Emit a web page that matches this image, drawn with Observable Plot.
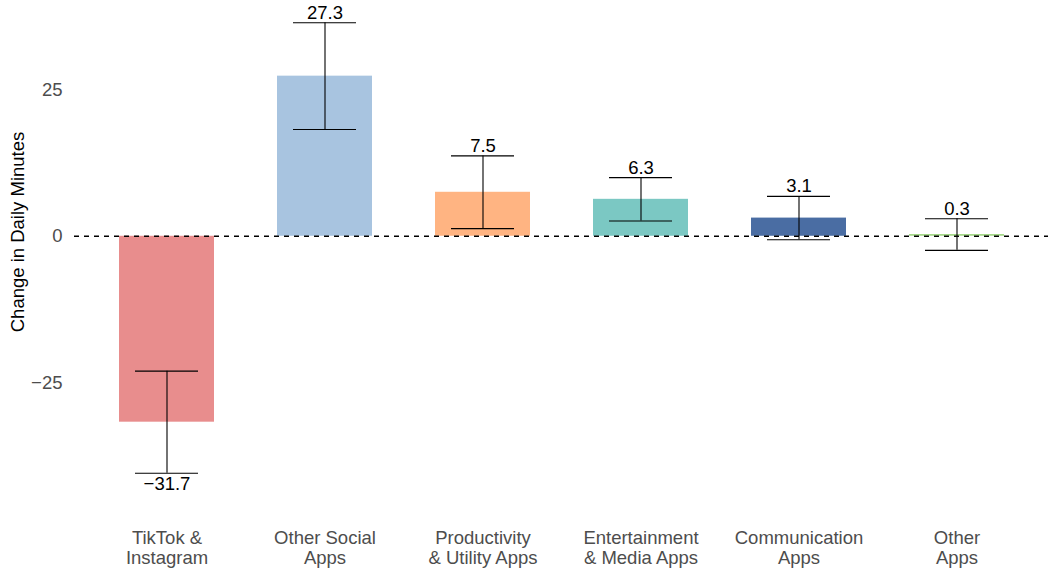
<!DOCTYPE html>
<html>
<head>
<meta charset="utf-8">
<script src="https://cdn.jsdelivr.net/npm/d3@7"></script>
<script src="https://cdn.jsdelivr.net/npm/@observablehq/plot@0.6"></script>
<style>
  html, body { margin: 0; padding: 0; background: #fff; }
  #chart { width: 1048px; height: 574px; }
</style>
</head>
<body>
<div id="chart"></div>
<script>
const categories = ["TikTok & Instagram", "Other Social Apps", "Productivity & Utility Apps", "Entertainment & Media Apps", "Communication Apps", "Other Apps"];
const tickLabels = ["TikTok &\nInstagram", "Other Social\nApps", "Productivity\n& Utility Apps", "Entertainment\n& Media Apps", "Communication\nApps", "Other\nApps"];
const values = [-31.7, 27.3, 7.5, 6.3, 3.1, 0.3];
const errLow = [-40.4, 18.2, 1.3, 2.6, -0.6, -2.4];
const errHigh = [-23.0, 36.4, 13.7, 10.0, 6.8, 3.0];
const colors = ["#E88D8D", "#A8C4E0", "#FFB482", "#7BC8C3", "#4A6DA3", "#A6D98A"];
const yTicks = [-25, 0, 25];
const yTitle = "Change in Daily Minutes";

const data = categories.map((c, i) => ({cat: c, value: values[i], lo: errLow[i], hi: errHigh[i]}));
const labelOf = new Map(categories.map((c, i) => [c, tickLabels[i]]));
const fmt = v => (v < 0 ? "\u2212" + Math.abs(v) : String(v));

const chart = Plot.plot({
  width: 1048,
  height: 574,
  marginLeft: 74,
  marginRight: 0,
  marginTop: 0,
  marginBottom: 79,
  style: {fontFamily: "'Liberation Sans', Arial, sans-serif", fontSize: "18.5px", background: "#fff"},
  x: {domain: categories, paddingInner: 0.4, paddingOuter: 0.28},
  y: {domain: [-44.2, 40.2]},
  color: {domain: categories, range: colors},
  marks: [
    Plot.barY(data, {x: "cat", y: "value", fill: "cat"}),
    Plot.ruleY([0], {stroke: "#000", strokeDasharray: "5,5", strokeWidth: 1.3}),
    Plot.ruleX(data, {x: "cat", y1: "lo", y2: "hi", stroke: "#000", strokeWidth: 1.1}),
    Plot.tickY(data, {x: "cat", y: "lo", stroke: "#000", strokeWidth: 1.1, insetLeft: 16, insetRight: 16}),
    Plot.tickY(data, {x: "cat", y: "hi", stroke: "#000", strokeWidth: 1.1, insetLeft: 16, insetRight: 16}),
    Plot.text(data.filter(d => d.value >= 0), {x: "cat", y: "hi", text: d => fmt(d.value), lineAnchor: "bottom", dy: -4, fill: "#000", fontSize: 18.5}),
    Plot.text(data.filter(d => d.value < 0), {x: "cat", y: "lo", text: d => fmt(d.value), lineAnchor: "top", dy: 4, fill: "#000", fontSize: 18.5}),
    Plot.axisY({ticks: yTicks, tickSize: 0, tickPadding: 12, tickFormat: fmt, color: "#4d4d4d", label: null}),
    Plot.text([yTitle], {text: d => d, frameAnchor: "left", textAnchor: "middle", rotate: -90, dx: -56, dy: -16, fill: "#000", fontSize: 18.5}),
    Plot.axisX({tickSize: 0, tickPadding: 34, tickFormat: d => labelOf.get(d), color: "#4d4d4d", label: null, lineHeight: 1.1})
  ]
});
document.getElementById("chart").appendChild(chart);
</script>
</body>
</html>
